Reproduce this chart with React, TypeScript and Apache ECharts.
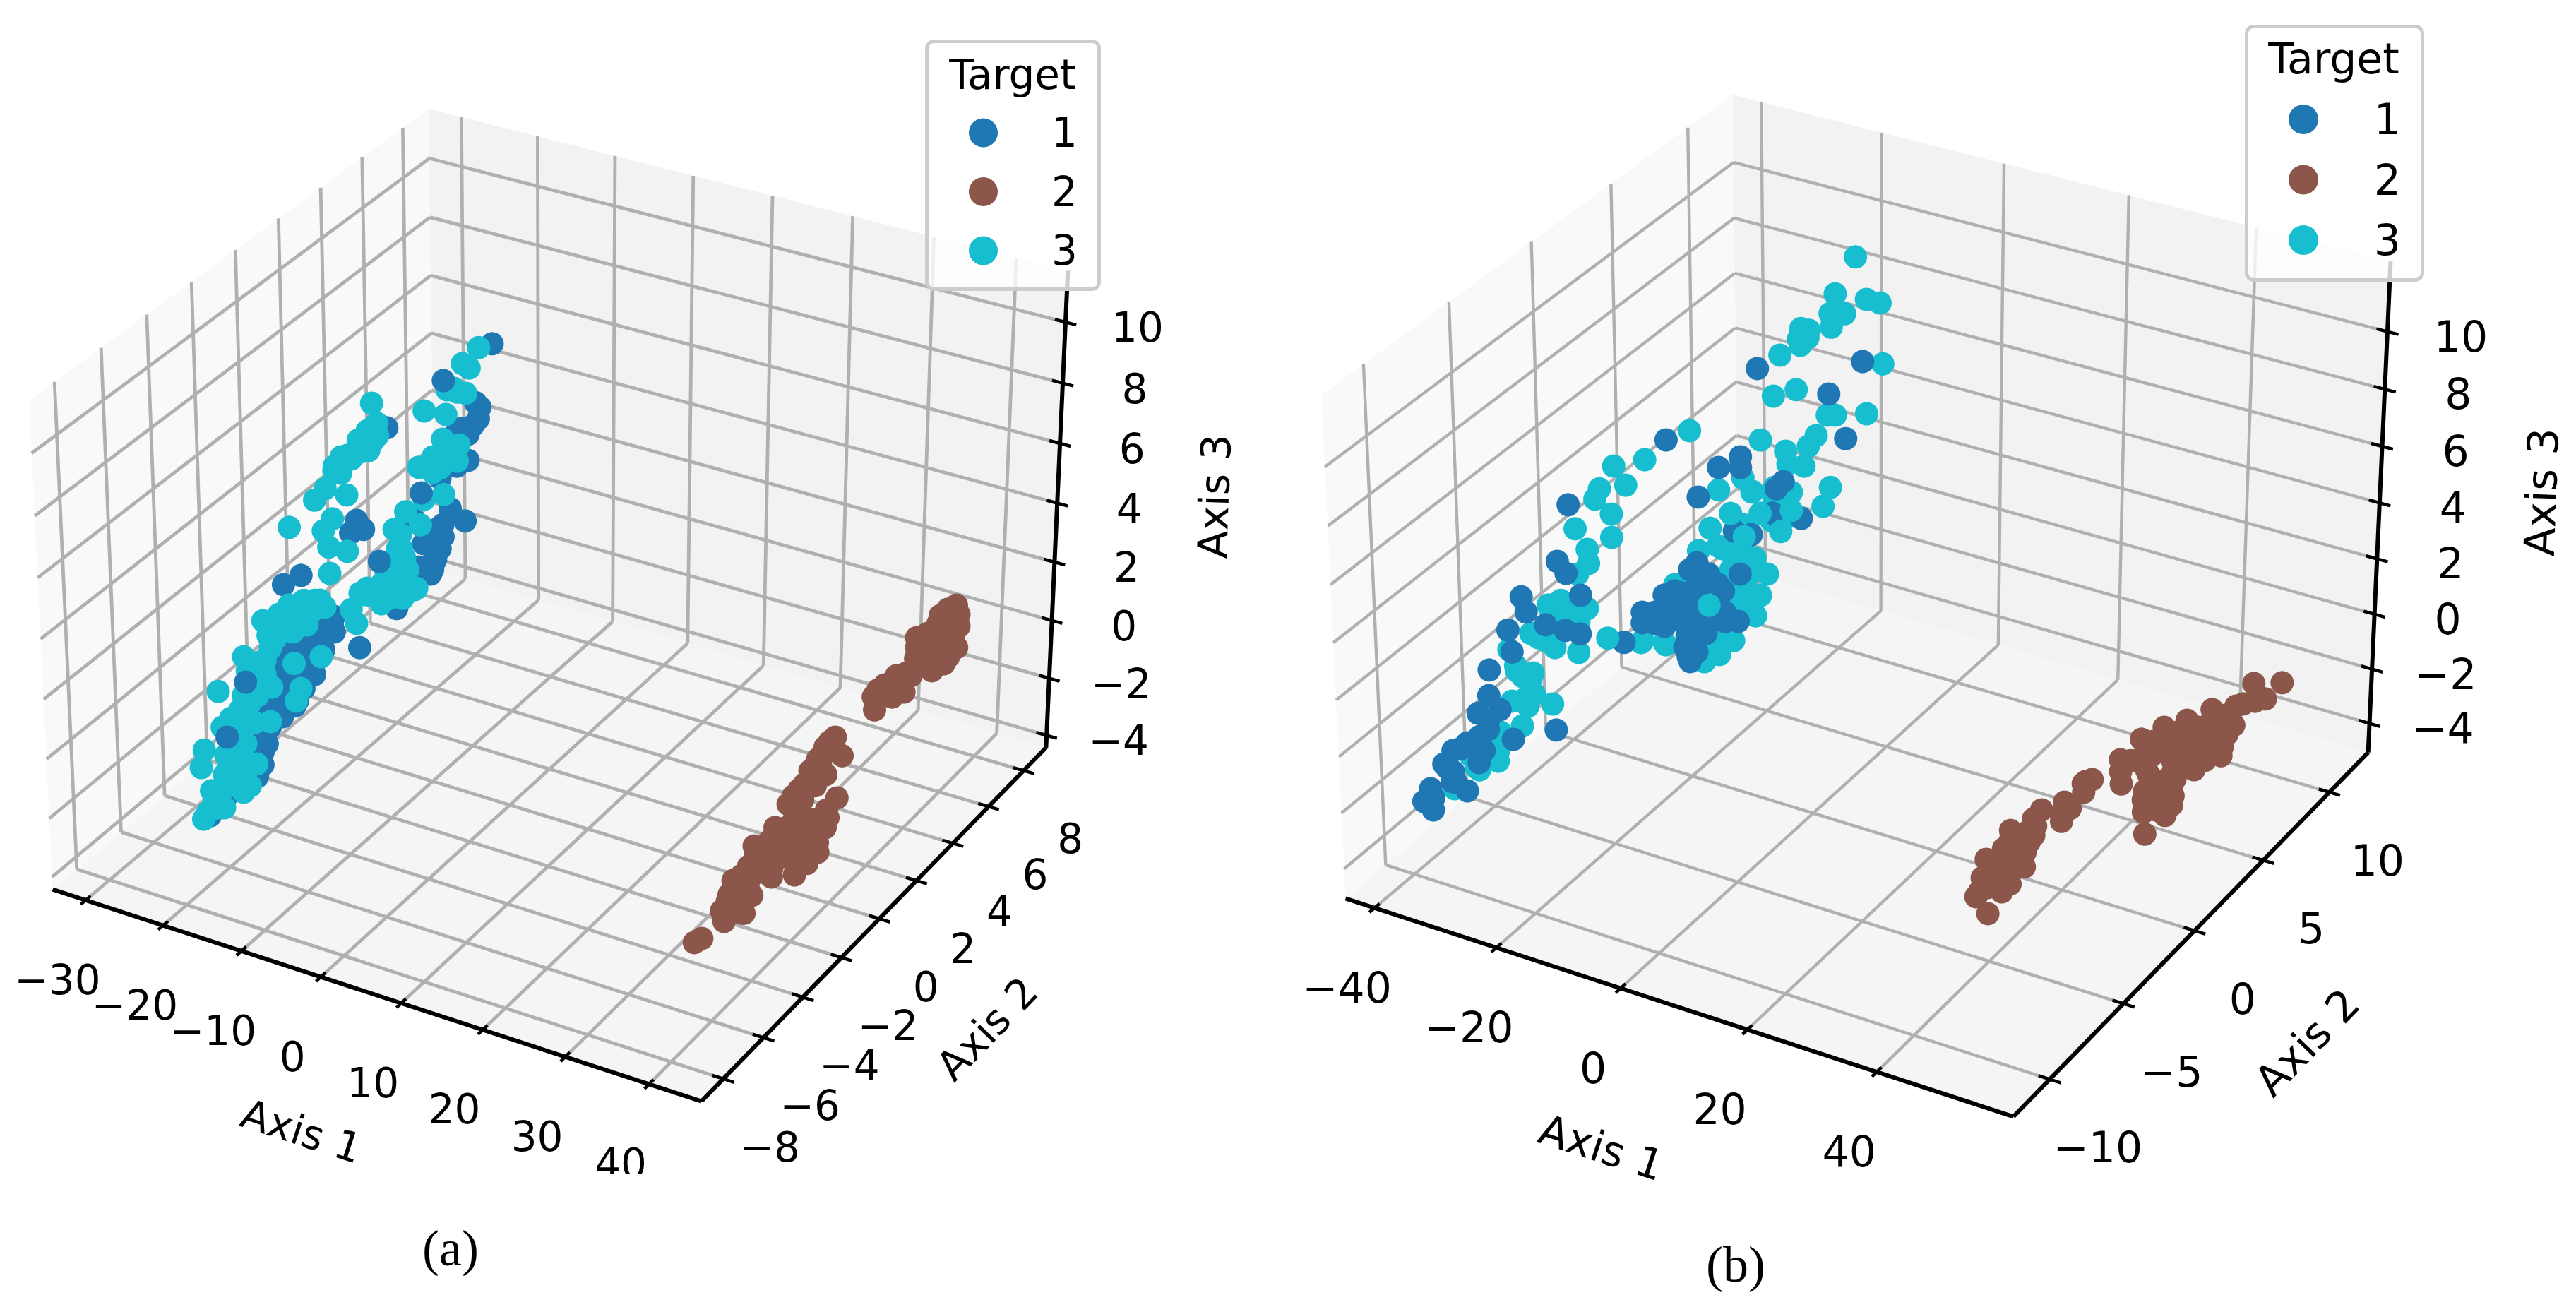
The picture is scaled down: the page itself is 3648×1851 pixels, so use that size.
import React, { useEffect, useRef } from "react";
import * as echarts from "echarts";

const TARGETS = ["1", "2", "3"];
const TARGET_COLORS = ["#1f77b4", "#8c564b", "#17becf"];
const A_TICKS_X = [-30, -20, -10, 0, 10, 20, 30, 40];
const A_TICKS_Y = [-8, -6, -4, -2, 0, 2, 4, 6, 8];
const A_TICKS_Z = [-4, -2, 0, 2, 4, 6, 8, 10];
const B_TICKS_X = [-40, -20, 0, 20, 40];
const B_TICKS_Y = [-10, -5, 0, 5, 10];
const B_TICKS_Z = [-4, -2, 0, 2, 4, 6, 8, 10];

// Panel (a): [Axis 1, Axis 2, Axis 3]
const A_TARGET1: number[][] = [
  [-17.8,6.1,6.50],[-16.1,4.6,5.44],[-14.7,4.2,5.22],[-16.5,3.8,4.83],[-15.0,3.8,4.89],[-13.2,3.1,4.53],[-14.4,3.0,4.30],
  [-15.8,2.7,3.96],[-12.4,1.9,3.64],[-9.7,1.6,3.59],[-25.9,3.9,4.26],[-23.8,1.6,2.55],[-22.1,1.3,2.54],[-23.8,1.3,2.29],[-27.4,0.2,1.20],
  [-28.9,-0.1,0.94],[-12.5,1.4,3.27],[-11.5,1.0,3.10],[-12.8,1.0,2.93],[-11.0,0.5,2.71],[-10.5,0.2,2.54],[-16.2,1.6,3.12],[-12.5,-0.7,1.75],
  [-20.1,-0.9,1.01],[-19.0,-1.3,0.80],[-20.8,-1.2,0.72],[-21.8,-1.4,0.47],[-23.8,-1.6,0.12],[-19.3,-1.7,0.41],[-19.6,-2.0,0.17],[-20.3,-2.3,-0.10],
  [-22.5,-2.4,-0.31],[-22.6,-2.7,-0.53],[-20.8,-2.8,-0.54],[-19.2,-3.0,-0.52],[-20.5,-3.2,-0.77],[-22.5,-3.1,-0.85],[-24.0,-3.1,-0.97],[-20.9,-3.7,-1.15],
  [-20.2,-4.1,-1.41],[-22.2,-3.9,-1.45],[-19.4,-4.6,-1.75],[-20.5,-4.7,-1.88],[-21.4,-5.2,-2.26],[-22.7,-5.9,-2.95],
  [-19.8,-1.1,0.86],[-20.4,-1.4,0.51],[-21.0,-1.7,0.28],[-21.6,-2.0,0.05],[-18.9,-2.3,-0.04],[-20.9,-2.6,-0.37],[-19.2,-2.7,-0.30],
  [-19.3,-3.1,-0.66],[-20.1,-3.4,-0.91],[-21.7,-3.0,-0.67],[-22.4,-3.4,-1.10],[-22.1,-3.7,-1.25],[-20.2,-4.3,-1.57],[-21.8,-4.3,-1.70],[-20.6,-4.9,-2.08],
  [-19.3,-4.9,-1.96],[-22.1,-4.7,-2.08],[-21.8,-5.5,-2.52],[-24.1,-2.1,-0.33],[-22.7,-2.1,-0.22],[-23.2,-1.4,0.29],[-24.6,-1.9,-0.13],[-12.3,1.5,3.33],
  [-11.5,1.2,3.15],[-11.1,0.9,2.95],[-10.9,0.6,2.76],[-10.5,0.3,2.63],[-13.5,1.0,2.88],[-12.5,0.4,2.51],[-11.1,0.2,2.50],[-15.0,4.4,5.47],
  [-14.9,4.0,5.08],[-16.2,3.9,4.94],
];
const A_TARGET3: number[][] = [
  [-19.3,6.0,6.32],[-20.4,5.6,5.91],[-19.0,5.4,5.97],[-20.6,4.9,5.39],[-19.0,4.8,5.48],[-17.9,4.8,5.52],[-22.3,4.4,4.82],
  [-19.2,4.3,4.98],[-29.5,4.5,4.51],[-27.5,4.0,4.25],[-26.6,3.7,4.05],[-28.2,3.6,3.87],[-26.7,3.3,3.76],[-26.8,3.5,3.91],[-17.8,3.6,4.63],
  [-15.4,3.5,4.67],[-17.4,3.2,4.28],[-14.6,3.1,4.40],[-19.1,2.9,3.97],[-17.0,2.8,4.01],[-14.0,2.2,3.82],[-16.3,2.1,3.54],[-29.2,3.2,3.47],
  [-28.5,3.1,3.45],[-30.5,3.0,3.11],[-29.1,2.8,3.09],[-30.1,2.4,2.71],[-30.7,2.1,2.44],[-26.7,2.2,2.86],[-27.0,1.6,2.36],[-27.4,1.3,2.09],
  [-25.6,0.9,1.90],[-22.9,0.8,2.02],[-32.2,1.4,1.79],[-23.6,0.2,1.56],[-17.9,1.8,3.17],[-18.1,1.3,2.84],[-15.2,1.5,3.10],[-16.1,0.9,2.57],
  [-14.9,0.5,2.41],[-15.0,0.2,2.19],[-11.5,-0.2,2.17],[-16.5,0.3,2.10],[-13.0,0.0,2.23],[-18.3,-0.3,1.59],[-16.7,-0.2,1.72],[-14.6,-0.2,1.89],
  [-26.8,-0.6,0.70],[-25.4,-0.4,0.85],[-23.3,-0.4,1.02],[-18.4,-0.7,1.26],[-16.9,-1.0,1.08],[-18.0,-0.3,1.56],[-15.0,-0.5,1.60],[-12.5,-0.4,1.92],
  [-29.2,-1.0,0.21],[-26.3,-1.0,0.41],[-25.0,-0.9,0.53],[-23.4,-0.8,0.83],[-25.8,-1.2,0.26],[-26.3,-1.7,-0.09],[-27.0,-2.0,-0.45],[-25.4,-2.3,-0.55],
  [-22.1,-2.1,-0.04],[-23.4,-2.7,-0.59],[-30.2,-2.8,-1.22],[-25.3,-3.1,-1.10],[-26.9,-3.4,-1.51],[-23.5,-3.5,-1.32],[-21.4,-3.5,-1.12],[-23.0,-4.1,-1.63],
  [-24.2,-4.3,-1.85],[-23.0,-4.6,-2.05],[-20.2,-4.6,-1.79],[-23.6,-4.9,-2.25],[-20.9,-4.9,-2.10],[-19.4,-5.2,-2.10],[-23.3,-5.5,-2.70],[-21.4,-5.7,-2.70],
  [-23.3,-6.0,-3.06],[-28.2,-4.2,-2.22],[-27.2,-4.7,-2.43],[-19.6,-2.7,-0.33],[-19.4,-3.0,-0.56],[-19.1,-1.9,0.31],
  [-25.1,-0.7,0.69],[-24.0,-0.4,0.96],[-26.5,-1.4,0.03],[-27.7,-1.3,0.00],[-27.6,-0.8,0.44],[-24.4,-1.3,0.38],[-23.1,-1.1,0.60],
  [-22.1,-0.6,0.99],[-26.2,-2.0,-0.31],[-28.0,-2.2,-0.70],[-29.3,-1.9,-0.50],[-26.6,-2.9,-1.01],[-24.7,-2.9,-0.86],[-26.2,-3.2,-1.28],[-27.2,-3.7,-1.66],
  [-24.4,-3.7,-1.43],[-24.8,-4.4,-2.00],[-22.9,-4.4,-1.85],[-22.6,-5.2,-2.41],[-20.7,-5.2,-2.26],[-22.6,-5.7,-2.82],[-20.0,-5.3,-2.30],[-24.2,-5.3,-2.60],
  [-23.3,-5.8,-2.94],[-17.0,1.2,2.81],[-16.6,0.9,2.53],[-14.9,0.6,2.52],[-16.1,0.6,2.36],[-13.7,0.3,2.38],[-14.8,0.0,2.09],[-16.3,0.0,1.88],
  [-12.8,-0.2,2.03],[-11.5,-0.1,2.16],[-17.9,-0.1,1.67],[-16.3,3.4,4.49],[-16.3,2.9,4.15],[-18.1,3.0,4.03],[-18.0,3.2,4.24],[-28.5,3.9,3.97],
  [-28.9,3.6,3.79],[-27.8,3.3,3.63],[-30.1,3.2,3.35],[-30.0,2.8,3.10],[-19.7,4.9,5.50],[-15.6,-0.4,1.69],[-14.1,-0.4,1.80],[-12.8,-0.3,2.01],
  [-17.1,-0.3,1.61],
];
const A_TARGET1_FRONT: number[][] = [
  [-21.6,5.1,5.52],[-17.2,2.3,3.58],[-17.9,0.5,2.23],[-27.4,-2.5,-0.86],[-26.0,-3.9,-1.78],[-14.9,-1.6,0.77],
];
const A_TARGET2_NEAR: number[][] = [
  [33.6,3.0,-1.19],[33.5,2.5,-1.23],[36.5,2.1,-1.03],[34.2,2.0,-1.22],[34.2,1.4,-1.30],[36.6,1.2,-1.10],[35.3,1.5,-1.15],
  [35.0,0.5,-1.30],[36.7,0.6,-1.09],[35.5,-0.3,-1.25],[36.8,-0.1,-1.12],[40.7,0.0,-0.79],[40.6,-0.5,-0.89],[41.7,-0.9,-0.80],[42.5,-1.4,-0.75],
  [36.5,-1.4,-1.25],[38.0,-1.1,-1.11],[39.8,-1.0,-0.95],[37.4,-1.8,-1.18],[39.3,-1.8,-1.02],[41.3,-1.8,-0.86],[36.1,-2.3,-1.33],[39.1,-2.4,-1.11],
  [41.6,-2.5,-0.85],[44.4,-2.6,-0.64],[44.5,-3.2,-0.62],[44.2,-3.7,-0.70],[41.7,-3.8,-0.92],[37.8,-3.3,-1.22],[39.0,-3.0,-1.15],[37.6,-4.0,-1.26],
  [39.2,-3.8,-1.15],[38.8,-4.7,-1.17],[41.5,-4.7,-0.96],[39.8,-5.5,-1.10],[42.7,-5.6,-0.86],[41.1,-5.5,-0.99],[41.3,-6.0,-0.99],[40.2,-7.0,-1.12],
  [40.6,-6.8,-1.08],
  [33.4,2.8,-1.23],[34.0,1.9,-1.22],[34.9,1.4,-1.25],[34.1,1.8,-1.27],[35.4,1.1,-1.21],[35.2,0.7,-1.21],[35.2,0.1,-1.25],
  [36.9,-0.5,-1.20],[39.8,-1.4,-0.99],[40.9,-1.4,-0.90],[43.2,-2.1,-0.74],[37.6,-1.4,-1.19],[37.3,-2.0,-1.23],[39.0,-2.0,-1.09],[40.6,-2.0,-0.95],
  [40.8,-2.8,-0.96],[39.1,-2.8,-1.10],[37.2,-2.7,-1.26],[42.7,-2.9,-0.83],[39.1,-3.4,-1.12],[40.8,-3.4,-0.97],[37.9,-3.7,-1.26],[38.5,-4.2,-1.19],
  [40.4,-4.4,-1.06],[39.7,-4.8,-1.10],[39.3,-5.0,-1.16],[41.0,-5.1,-1.03],[42.4,-5.6,-0.88],
];
const A_TARGET2_FAR: number[][] = [
  [37.1,8.0,0.59],[38.3,7.6,0.60],[36.0,7.6,0.38],[36.4,7.3,0.32],[39.2,7.2,0.50],[40.7,6.4,0.37],[34.9,6.8,0.01],
  [35.8,6.4,-0.02],[37.4,6.8,0.21],[37.7,6.3,0.12],[40.5,5.8,0.16],[39.7,5.5,0.04],[36.9,6.0,-0.01],[37.8,5.7,-0.06],[35.8,5.3,-0.32],
  [38.1,4.7,-0.33],[37.1,4.5,-0.46],[35.8,4.7,-0.52],[34.8,4.5,-0.64],[36.1,4.0,-0.67],[37.6,5.3,-0.18],
  [36.5,7.8,0.52],[37.6,7.2,0.38],[36.0,6.9,0.18],[39.4,6.8,0.44],[39.2,6.4,0.25],[38.0,5.9,0.07],[39.4,5.9,0.18],
  [40.6,6.0,0.29],[36.8,5.9,-0.02],[36.8,5.4,-0.21],[37.1,5.0,-0.27],[35.3,4.9,-0.43],[34.7,4.8,-0.59],
];

// Panel (b): [Axis 1, Axis 2, Axis 3]
const B_TARGET3: number[][] = [
  [-17.1,10.0,9.38],[-17.3,8.7,8.60],[-11.7,8.5,8.81],[-9.0,8.3,8.92],[-16.2,7.9,8.30],[-13.8,7.9,8.43],[-14.8,7.4,8.11],
  [-19.8,7.4,7.77],[-18.2,7.3,7.84],[-19.2,7.0,7.60],[-17.9,7.1,7.68],[-18.4,6.8,7.51],[-20.8,6.4,7.19],[-3.3,6.1,8.04],[-18.2,4.9,6.53],
  [-15.2,5.2,6.81],[-7.7,4.2,6.79],[-6.4,4.2,6.87],[-1.6,4.3,7.16],[-7.8,3.5,6.37],[-8.1,3.1,6.15],[-16.4,3.3,5.78],[-11.3,2.9,5.87],
  [-9.7,2.4,5.74],[-7.1,2.4,5.82],[-0.9,1.6,5.81],[-0.4,0.9,5.49],[-29.1,3.7,5.17],[-33.8,2.6,4.33],[-38.5,2.4,3.90],[-34.7,1.7,3.76],
  [-18.8,1.5,4.66],[-15.8,1.9,5.09],[-13.0,1.4,5.01],[-9.9,1.6,5.26],[-6.7,1.4,5.37],[-11.6,0.2,4.46],[-7.5,0.6,4.86],[-34.3,0.6,3.24],
  [-38.6,1.5,3.48],[-38.6,1.2,3.24],[-39.1,0.1,2.64],[-32.2,-0.2,2.90],[-35.0,-0.7,2.52],[-33.5,-1.2,2.34],[-34.3,-1.6,2.09],[-36.4,-2.7,1.35],
  [-33.5,-3.0,1.42],[-31.7,-3.4,1.32],[-29.6,-2.8,1.71],[-29.7,-3.3,1.48],[-36.7,-3.7,0.78],[-33.4,-4.0,0.88],[-31.1,-4.3,0.92],[-26.9,-4.4,1.07],
  [-38.8,-4.3,0.34],[-36.1,-4.9,0.22],[-33.9,-5.3,0.17],[-32.4,-5.2,0.35],[-30.1,-6.0,0.13],[-33.3,-6.2,-0.24],[-30.1,-6.4,-0.11],[-26.3,-6.3,0.17],
  [-29.2,-7.1,-0.42],[-32.3,-7.3,-0.76],[-30.8,-8.0,-0.98],[-29.8,-8.4,-1.09],[-32.9,-8.6,-1.43],[-34.9,-8.2,-1.33],[-34.4,-9.4,-1.90],[-17.4,-4.0,1.92],
  [-17.2,-2.0,2.99],[-13.4,-4.1,2.08],[-13.9,-0.5,3.88],[-16.6,-0.7,3.63],[-8.9,-0.8,4.09],[-7.1,-1.2,3.96],[-9.6,-1.4,3.72],[-3.2,-1.6,4.07],
  [-2.6,-2.3,3.68],[-5.2,-2.3,3.59],[-1.4,-3.1,3.41],[-6.4,-2.5,3.36],[-4.6,-3.7,2.87],[-2.7,-4.0,2.88],[-6.0,-4.1,2.64],[-4.8,-4.5,2.49],
  [-5.4,-4.8,2.34],[-17.4,-4.1,1.90],[-13.6,-4.1,2.14],[-9.5,0.6,4.81],[-13.1,1.4,4.98],
  [-13.0,-0.6,3.89],[-11.3,-0.4,4.15],[-10.1,-1.0,3.92],[-6.7,-1.0,4.14],[-6.2,-1.7,3.82],[-3.0,-2.7,3.50],[-7.6,-1.9,3.58],
  [-4.2,-3.6,3.02],[-3.7,-4.5,2.56],[-9.3,1.3,5.11],[-7.1,1.1,5.16],[-7.5,0.4,4.77],[-5.2,0.5,4.98],[-31.2,-8.2,-1.08],[-31.1,-7.6,-0.78],
  [-32.1,-8.7,-1.41],[-35.4,-5.1,0.18],[-32.2,-5.4,0.28],[-31.4,-6.1,-0.08],[-36.2,-2.7,1.36],[-34.8,-2.5,1.53],[-31.5,-2.9,1.60],[-30.7,-3.4,1.38],
  [-32.4,-3.6,1.19],[-34.9,-3.9,0.84],
];
const B_TARGET1: number[][] = [
  [-6.8,6.2,7.87],[-23.3,5.9,6.78],[-9.4,5.0,7.09],[-2.8,3.4,6.61],[-32.0,3.3,4.84],[-18.2,2.7,5.34],[-20.8,2.3,4.98],
  [-17.2,2.3,5.20],[-21.4,1.2,4.38],[-9.0,1.8,5.42],[-9.4,1.5,5.28],[-2.9,0.5,5.09],[-7.8,0.6,4.92],[-12.5,0.0,4.27],[-9.5,-0.1,4.38],
  [-42.6,1.0,2.88],[-39.0,-1.1,2.02],[-36.5,-1.5,1.93],[-32.0,-2.3,1.80],[-41.7,-2.4,1.17],[-39.3,-3.0,1.05],[-35.0,-3.4,1.06],[-28.2,-3.8,1.36],
  [-31.2,-3.6,1.20],[-40.8,-3.6,0.59],[-38.0,-4.4,0.36],[-40.0,-5.1,-0.09],[-37.7,-6.0,-0.43],[-34.5,-6.5,-0.48],[-37.9,-6.6,-0.79],[-35.4,-6.9,-0.73],
  [-29.4,-7.6,-0.67],[-34.6,-7.2,-0.86],[-23.1,-7.3,-0.06],[-36.8,-7.7,-1.25],[-38.4,-8.0,-1.49],[-35.2,-7.8,-1.12],[-32.7,-8.5,-1.29],[-33.2,-8.0,-1.14],
  [-35.8,-10.2,-2.36],[-38.6,-8.5,-1.74],[-36.2,-8.8,-1.71],[-34.7,-9.2,-1.79],[-32.0,-9.5,-1.76],[-38.4,-9.4,-2.17],[-38.2,-9.9,-2.37],[-20.2,-4.1,1.72],
  [-20.0,-3.0,2.29],[-19.0,-3.4,2.17],[-18.2,-2.3,2.69],[-16.7,-2.2,2.89],[-15.1,-3.5,2.34],[-13.3,-2.3,3.00],[-15.6,-1.2,3.50],[-14.4,-1.7,3.28],
  [-10.5,-1.9,3.39],[-12.7,-1.6,3.47],[-14.1,-2.6,2.84],[-14.4,-3.2,2.50],[-11.3,-3.0,2.85],[-9.1,-3.9,2.52],[-8.5,-4.6,2.22],[-7.6,-4.4,2.35],
  [-6.6,-3.0,3.16],[-8.2,-3.4,2.84],[-7.6,-1.6,3.79],[-3.7,-3.3,3.16],
  [-17.9,-3.0,2.43],[-16.9,-3.4,2.28],[-16.0,-2.9,2.61],[-15.3,-2.3,2.95],[-14.7,-2.7,2.74],[-12.3,-3.3,2.60],[-10.7,-3.8,2.44],
  [-10.3,-3.4,2.70],[-7.9,-3.7,2.65],[-9.8,-4.3,2.31],[-7.7,-4.8,2.19],[-5.8,-3.3,3.02],[-8.3,-3.0,2.97],[-11.7,-2.5,3.02],[-13.1,-1.8,3.28],
  [-16.3,-1.4,3.30],[-8.8,-2.2,3.39],[-37.4,-7.9,-1.40],[-37.8,-8.6,-1.77],[-35.6,-9.1,-1.87],[-37.1,-9.7,-2.27],[-37.8,-9.8,-2.34],[-35.3,-7.5,-1.02],
];
const B_TARGET3_FRONT: number[][] = [
  [-23.4,-3.9,1.57],[-14.6,0.6,4.49],[-9.8,0.6,4.79],[-16.7,0.1,4.06],[-9.9,-2.7,3.05],[-5.0,0.7,5.15],[-5.0,0.0,4.72],[-10.4,-0.2,4.29],
];
const B_TARGET2: number[][] = [
  [54.6,9.0,-1.00],[50.4,8.9,-1.26],[54.7,7.7,-0.96],[53.3,7.6,-1.09],[51.2,7.2,-1.21],[48.1,6.9,-1.40],[54.0,5.7,-0.99],
  [45.9,6.1,-1.55],[50.0,5.7,-1.26],[43.6,5.5,-1.67],[42.0,4.6,-1.77],[47.8,5.0,-1.40],[51.9,4.6,-1.10],[55.8,4.0,-0.83],[47.5,4.3,-1.41],
  [52.4,3.7,-1.04],[57.1,3.3,-0.71],[42.2,3.0,-1.72],[45.1,3.2,-1.55],[49.2,3.3,-1.24],[52.3,2.9,-1.01],[55.5,2.9,-0.79],[55.3,2.2,-0.79],
  [52.3,2.1,-1.02],[46.5,1.1,-1.36],[49.2,1.8,-1.19],[51.4,1.0,-1.05],[55.3,0.6,-0.76],[57.7,-0.5,-0.55],[52.5,-0.1,-0.93],[54.7,-1.1,-0.71],
  [58.4,-1.3,-0.47],[56.2,-0.9,-0.63],[58.6,-2.8,-0.36],[41.1,1.5,-1.77],[40.5,1.3,-1.79],[42.0,0.5,-1.67],[40.8,-0.3,-1.71],[42.8,-0.8,-1.55],
  [43.7,-1.8,-1.45],[38.6,-0.9,-1.84],[38.9,-1.6,-1.80],[37.4,-2.5,-1.86],[41.9,-2.9,-1.52],[42.3,-3.4,-1.49],[39.5,-3.9,-1.66],[43.5,-4.2,-1.35],
  [38.9,-4.8,-1.62],[42.6,-4.5,-1.42],[46.1,-5.4,-1.08],[43.0,-5.3,-1.33],[41.5,-6.2,-1.38],[43.2,-6.0,-1.28],[46.9,-6.7,-0.96],[47.0,-7.3,-0.92],
  [44.0,-7.7,-1.10],[44.2,-7.0,-1.12],[48.8,-9.0,-0.68],
  [52.1,7.3,-1.12],[50.9,6.5,-1.23],[48.9,5.5,-1.31],[46.5,5.1,-1.46],[54.4,5.0,-0.96],[50.1,4.3,-1.24],[54.3,3.7,-0.91],
  [50.5,2.9,-1.13],[54.1,2.9,-0.89],[53.0,2.4,-0.97],[52.2,1.3,-0.99],[53.9,1.5,-0.87],[54.6,0.0,-0.76],[51.2,0.6,-1.04],[56.6,-0.9,-0.60],
  [56.4,0.2,-0.66],[44.0,2.9,-1.58],[44.3,4.4,-1.60],[46.4,3.3,-1.43],[46.6,3.7,-1.43],[44.2,2.1,-1.57],[48.0,2.2,-1.29],[40.6,-2.2,-1.63],
  [40.0,-2.7,-1.68],[41.2,-3.7,-1.52],[39.2,-3.3,-1.68],[41.2,-4.5,-1.51],[41.6,-5.5,-1.40],[42.3,-6.4,-1.32],[44.8,-6.7,-1.14],[43.6,-7.3,-1.16],
  [44.0,-4.8,-1.26],[44.9,-6.0,-1.16],[42.5,-1.1,-1.55],[40.6,1.1,-1.76],
];

const FONT = "DejaVu Sans";
const GRID = "#b0b0b0";

function view(tx: number, ty: number, tz: number) {
  const dx = (tx - 0.5) * 1.1905, dy = (ty - 0.5) * 1.1905, dz = (tz - 0.5) * 0.8929;
  const u = 0.866025 * dx + 0.5 * dy;
  const v = -0.25 * dx + 0.433013 * dy + 0.866025 * dz;
  const n = 0.433013 * dx - 0.75 * dy + 0.5 * dz;
  return [u / (10 - n), v / (10 - n)];
}

function makePanel(p: any, idx: number) {
  const nx = (v: number) => (v - p.lx[0]) / (p.lx[1] - p.lx[0]);
  const ny = (v: number) => (v - p.ly[0]) / (p.ly[1] - p.ly[0]);
  const nz = (v: number) => (v - p.lz[0]) / (p.lz[1] - p.lz[0]);
  const fmt = (v: number) => String(v).replace("-", "\u2212");
  const panes = [
    { pts: [view(0, 0, 0), view(0, 1, 0), view(0, 1, 1), view(0, 0, 1)], fill: "#f9f9f9" },
    { pts: [view(0, 1, 0), view(1, 1, 0), view(1, 1, 1), view(0, 1, 1)], fill: "#f2f2f2" },
    { pts: [view(0, 0, 0), view(1, 0, 0), view(1, 1, 0), view(0, 1, 0)], fill: "#f5f5f5" },
  ];
  const lines: any[] = [];
  const g = (a: number[], b: number[]) => lines.push({ pts: [a, b], color: GRID, w: p.gridW });
  p.tx.forEach((t: number) => {
    const x = nx(t);
    g(view(x, 1, 0), view(x, 1, 1));
    g(view(x, 0, 0), view(x, 1, 0));
  });
  p.ty.forEach((t: number) => {
    const y = ny(t);
    g(view(0, y, 0), view(0, y, 1));
    g(view(0, y, 0), view(1, y, 0));
  });
  p.tz.forEach((t: number) => {
    const z = nz(t);
    g(view(0, 0, z), view(0, 1, z));
    g(view(0, 1, z), view(1, 1, z));
  });
  const ink: any[] = [];
  const a = (s: number[], e: number[], w: number) => ink.push({ pts: [s, e], color: "#000", w });
  a(view(0, 0, 0), view(1, 0, 0), 6);
  a(view(1, 0, 0), view(1, 1, 0), 6);
  a(view(1, 1, 0), view(1, 1, 1), 6);
  const labels: any[] = [];
  p.tx.forEach((t: number) => {
    const x = nx(t);
    a(view(x, -0.012, 0), view(x, 0.012, 0), 4.5);
    labels.push({ at: view(x, 0, 0), text: fmt(t), off: p.ox });
  });
  p.ty.forEach((t: number) => {
    const y = ny(t);
    a(view(0.984, y, 0), view(1.016, y, 0), 4.5);
    labels.push({ at: view(1, y, 0), text: fmt(t), off: p.oy });
  });
  p.tz.forEach((t: number) => {
    const z = nz(t);
    a(view(0.984, 1, z), view(1.016, 1, z), 4.5);
    labels.push({ at: view(1, 1, z), text: fmt(t), off: p.oz });
  });
  const lineRender = (rows: any[]) => (params: any, api: any) => {
    const it = rows[params.dataIndex];
    const s = api.coord(it.pts[0]), e = api.coord(it.pts[1]);
    return { type: "line", shape: { x1: s[0], y1: s[1], x2: e[0], y2: e[1] }, style: { stroke: it.color, lineWidth: it.w } };
  };
  const pick = (rows: number[][]) => rows.map((d) => view(nx(d[0]), ny(d[1]), nz(d[2])));
  const base = { xAxisIndex: idx, yAxisIndex: idx, silent: true, clip: false };
  const series: any[] = [
    { ...base, type: "custom", coordinateSystem: "cartesian2d", z: 1, data: panes.map((r) => r.pts[0]),
      renderItem: (params: any, api: any) => ({ type: "polygon", shape: { points: panes[params.dataIndex].pts.map((q) => api.coord(q)) }, style: { fill: panes[params.dataIndex].fill } }) },
    { ...base, type: "custom", coordinateSystem: "cartesian2d", z: 2, data: lines.map((r) => r.pts[0]), renderItem: lineRender(lines) },
    { ...base, type: "custom", coordinateSystem: "cartesian2d", z: 3, data: ink.map((r) => r.pts[0]), renderItem: lineRender(ink) },
    { ...base, type: "custom", coordinateSystem: "cartesian2d", z: 3, data: labels.map((r) => r.at),
      renderItem: (params: any, api: any) => {
        const it = labels[params.dataIndex];
        const c = api.coord(it.at);
        return { type: "text", x: c[0] + it.off[0], y: c[1] + it.off[1], style: { text: it.text, fontFamily: FONT, fontSize: p.font, fill: "#000", align: "center", verticalAlign: "middle" } };
      } },
  ];
  p.layers.forEach((l: any, i: number) => {
    series.push({ ...base, name: TARGETS[l.t], type: "scatter", z: 5 + i, symbol: "circle", symbolSize: p.dot,
      itemStyle: { color: TARGET_COLORS[l.t], opacity: 1 }, data: pick(l.rows) });
  });
  return {
    grid: { left: p.left, top: 0, width: 1824, height: 1851, containLabel: false },
    xAxis: { type: "value", gridIndex: idx, show: false, min: (p.left - p.X0) / p.S, max: (p.left + 1824 - p.X0) / p.S },
    yAxis: { type: "value", gridIndex: idx, show: false, min: (p.Y0 - 1851) / p.S, max: p.Y0 / p.S },
    series,
    legend: {
      show: true, orient: "vertical", left: p.lg.left, top: p.lg.top, selectedMode: false, z: 20,
      data: TARGETS.map((name) => ({ name, icon: "circle" })),
      itemWidth: p.lg.d, itemHeight: p.lg.d, itemGap: p.lg.gap, padding: p.lg.pad,
      backgroundColor: "rgba(255,255,255,0.8)", borderColor: "#cccccc", borderWidth: 5, borderRadius: 10,
      formatter: "{n|{name}}",
      textStyle: { rich: { n: { width: p.lg.tw, align: "right", fontFamily: FONT, fontSize: p.font, color: "#000" } } },
    },
    graphic: [
      { type: "text", z: 100, x: p.lg.titleX, y: p.lg.titleY, style: { text: "Target", fontFamily: FONT, fontSize: p.font, fill: "#000", align: "center", verticalAlign: "middle" } },
      ...p.titles.map((t: any) => ({ type: "text", z: 100, x: t.x, y: t.y, rotation: (t.r * Math.PI) / 180, style: { text: t.text, fontFamily: FONT, fontSize: p.font, fill: "#000", align: "center", verticalAlign: "middle" } })),
      { type: "text", z: 100, x: p.cap.x, y: p.cap.y, style: { text: p.cap.text, fontFamily: "Liberation Serif", fontSize: 72, fill: "#000", align: "center", verticalAlign: "middle" } },
      ...(p.crop ? [{ type: "rect", z: 90, shape: p.crop, style: { fill: "#ffffff" } }] : []),
    ],
  };
}

const PANEL_A = {
  left: 0, S: 8840, X0: 791, Y0: 823, font: 58, dot: 33, gridW: 4.8,
  lx: [-34.3, 46.2], ly: [-9.07, 9.3], lz: [-4.43, 11.67],
  tx: A_TICKS_X, ty: A_TICKS_Y, tz: A_TICKS_Z,
  ox: [-40, 113], oy: [66, 97], oz: [102, 8],
  layers: [{ t: 0, rows: A_TARGET1 }, { t: 1, rows: A_TARGET2_NEAR }, { t: 1, rows: A_TARGET2_FAR }, { t: 2, rows: A_TARGET3 }, { t: 0, rows: A_TARGET1_FRONT }],
  lg: { left: 1312.5, top: 58.5, d: 41, gap: 25.5, pad: [100.5, 30.5, 25.5, 59.5], tw: 108, titleX: 1434, titleY: 106 },
  titles: [
    { text: "Axis 1", x: 427, y: 1602, r: -18 },
    { text: "Axis 2", x: 1398, y: 1457, r: 46 },
    { text: "Axis 3", x: 1720, y: 703, r: 88 },
  ],
  cap: { text: "(a)", x: 638, y: 1768 },
  crop: { x: 780, y: 1663, width: 220, height: 60 },
};
const PANEL_B = {
  left: 1824, S: 9100, X0: 2643, Y0: 823, font: 60, dot: 33, gridW: 4.4,
  lx: [-44.8, 60.7], ly: [-12.4, 13.0], lz: [-5.08, 12.4],
  tx: B_TICKS_X, ty: B_TICKS_Y, tz: B_TICKS_Z,
  ox: [-39, 113], oy: [68, 97], oz: [104, 7],
  layers: [{ t: 1, rows: B_TARGET2 }, { t: 2, rows: B_TARGET3 }, { t: 0, rows: B_TARGET1 }, { t: 2, rows: B_TARGET3_FRONT }],
  lg: { left: 3181.5, top: 37.5, d: 42, gap: 25.5, pad: [101.5, 30.5, 26.5, 59.5], tw: 112, titleX: 3305, titleY: 83 },
  titles: [
    { text: "Axis 1", x: 2268, y: 1625, r: -18 },
    { text: "Axis 2", x: 3267, y: 1476, r: 46 },
    { text: "Axis 3", x: 3599, y: 697, r: 88 },
  ],
  cap: { text: "(b)", x: 2458, y: 1791 },
};

export default function App() {
  const ref = useRef<HTMLDivElement>(null);
  useEffect(() => {
    document.body.style.margin = "0";
    const chart = echarts.init(ref.current!, undefined, { renderer: "svg" });
    const a: any = makePanel(PANEL_A, 0);
    const b: any = makePanel(PANEL_B, 1);
    chart.setOption({
      animation: false,
      backgroundColor: "#ffffff",
      grid: [a.grid, b.grid],
      xAxis: [a.xAxis, b.xAxis],
      yAxis: [a.yAxis, b.yAxis],
      legend: [a.legend, b.legend],
      graphic: [...a.graphic, ...b.graphic],
      series: [...a.series, ...b.series],
    });
    return () => chart.dispose();
  }, []);
  return <div ref={ref} style={{ position: "absolute", left: 0, top: 0, width: 3648, height: 1851 }} />;
}
